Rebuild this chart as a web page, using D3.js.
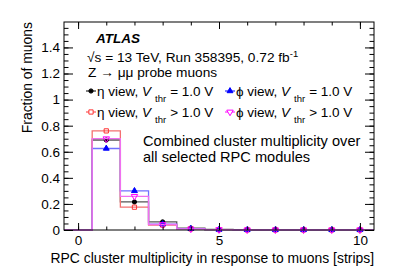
<!DOCTYPE html>
<html lang="en">
<head>
  <meta charset="UTF-8">
  <title>RPC cluster multiplicity</title>
  <style>
    body { margin: 0; background: #fff; }
    svg text { font-family: "Liberation Sans", Arial, sans-serif; fill: #000; }
  </style>
</head>
<body>
  <script src="https://d3js.org/d3.v7.min.js"></script>
  <script>
    const width = 407;
    const height = 275;
    const margin = { top: 22, right: 33, bottom: 45, left: 64 };

    // bin centres (strips) and fraction of muons per series
    const bins = [0, 1, 2, 3, 4, 5, 6, 7, 8, 9, 10];
    const etaEq = [0, 0.69, 0.215, 0.062, 0.015, 0.004, 0.002, 0.001, 0.001, 0.001, 0.001];
    const etaGt = [0, 0.76, 0.175, 0.038, 0.009, 0.003, 0.001, 0.001, 0.001, 0.001, 0.001];
    const phiEq = [0, 0.625, 0.30, 0.045, 0.010, 0.003, 0.001, 0.001, 0.001, 0.001, 0.001];
    const phiGt = [0, 0.70, 0.258, 0.042, 0.008, 0.003, 0.001, 0.001, 0.001, 0.001, 0.001];
    const yTicks = [0, 0.2, 0.4, 0.6, 0.8, 1, 1.2, 1.4];
    const xTicks = [0, 5, 10];

    const series = [
      { name: 'η view', op: '= 1.0 V', values: etaEq, color: '#000000', line: '#555555', symbol: d3.symbolCircle, fill: true, size: 14, rot: 0 },
      { name: 'η view', op: '> 1.0 V', values: etaGt, color: '#ff3333', line: '#f47070', symbol: d3.symbolSquare, fill: false, size: 18, rot: 0 },
      { name: 'ϕ view', op: '= 1.0 V', values: phiEq, color: '#0000ff', line: '#7070ff', symbol: d3.symbolTriangle, fill: true, size: 15, rot: 0 },
      { name: 'ϕ view', op: '> 1.0 V', values: phiGt, color: '#ff00ff', line: '#f070f0', symbol: d3.symbolTriangle, fill: false, size: 18, rot: 180 }
    ];

    const svg = d3.select('body').append('svg')
      .attr('width', width)
      .attr('height', height);

    const x = d3.scaleLinear().domain([-0.5, 10.5]).range([margin.left, width - margin.right]);
    const y = d3.scaleLinear().domain([0, 1.595]).range([height - margin.bottom, margin.top]);

    // histograms
    series.forEach(s => {
      const pts = bins.map((b, i) => [b - 0.5, s.values[i]]);
      pts.push([bins[bins.length - 1] + 0.5, s.values[s.values.length - 1]]);
      const line = d3.line().x(d => x(d[0])).y(d => y(d[1])).curve(d3.curveStepAfter);
      svg.append('path')
        .attr('d', line(pts))
        .attr('fill', 'none')
        .attr('stroke', s.line)
        .attr('stroke-width', 1.3);
      svg.append('g').selectAll('path')
        .data(bins.filter((b, i) => s.values[i] > 0))
        .enter()
        .append('path')
        .attr('d', d3.symbol().type(s.symbol).size(s.size))
        .attr('transform', b => 'translate(' + x(b) + ',' + y(s.values[b]) + ') rotate(' + s.rot + ')')
        .attr('fill', s.fill ? s.color : 'none')
        .attr('stroke', s.color)
        .attr('stroke-width', 1);
    });

    // axes, ROOT style ticks inside the frame
    const innerW = width - margin.left - margin.right;
    const innerH = height - margin.top - margin.bottom;
    const yMinor = d3.range(0, 1.6, 0.05);
    const xMinor = d3.range(0, 11, 1);

    const addAxis = (axis, tx, ty) => {
      const g = svg.append('g').attr('transform', 'translate(' + tx + ',' + ty + ')').call(axis);
      g.select('.domain').remove();
      g.selectAll('line').attr('stroke', '#000');
      g.selectAll('text').style('font-size', '13.5px').attr('fill', '#000');
      return g;
    };

    addAxis(d3.axisLeft(y).tickValues(yTicks).tickSize(-9).tickPadding(4).tickFormat(d3.format('~g')), margin.left, 0);
    addAxis(d3.axisLeft(y).tickValues(yMinor).tickSize(-4.5).tickFormat(''), margin.left, 0);
    addAxis(d3.axisRight(y).tickValues(yTicks).tickSize(-9).tickFormat(''), width - margin.right, 0);
    addAxis(d3.axisRight(y).tickValues(yMinor).tickSize(-4.5).tickFormat(''), width - margin.right, 0);
    addAxis(d3.axisBottom(x).tickValues(xTicks).tickSize(-7).tickPadding(5), 0, height - margin.bottom);
    addAxis(d3.axisBottom(x).tickValues(xMinor).tickSize(-3.5).tickFormat(''), 0, height - margin.bottom);
    addAxis(d3.axisTop(x).tickValues(xTicks).tickSize(-7).tickFormat(''), 0, margin.top);
    addAxis(d3.axisTop(x).tickValues(xMinor).tickSize(-3.5).tickFormat(''), 0, margin.top);

    svg.append('rect')
      .attr('x', margin.left)
      .attr('y', margin.top)
      .attr('width', innerW)
      .attr('height', innerH)
      .attr('fill', 'none')
      .attr('stroke', '#000')
      .attr('stroke-width', 1);

    // axis titles
    svg.append('text')
      .attr('x', width - margin.right)
      .attr('y', 263)
      .attr('text-anchor', 'end')
      .style('font-size', '13.9px')
      .text('RPC cluster multiplicity in response to muons [strips]');

    svg.append('text')
      .attr('transform', 'translate(32,' + margin.top + ') rotate(-90)')
      .attr('text-anchor', 'end')
      .style('font-size', '13.9px')
      .text('Fraction of muons');

    // labels
    svg.append('text')
      .attr('x', 96).attr('y', 43)
      .style('font-size', '13.5px')
      .style('font-weight', 'bold')
      .style('font-style', 'italic')
      .text('ATLAS');

    const lumi = svg.append('text').attr('x', 87).attr('y', 61.5).style('font-size', '13.7px');
    lumi.append('tspan').text('√s = 13 TeV, Run 358395, 0.72 fb');
    lumi.append('tspan').attr('dy', -5).style('font-size', '9.5px').text('-1');

    svg.append('text').attr('x', 88).attr('y', 76.5).style('font-size', '13.7px')
      .text('Z → μμ probe muons');

    const leg = svg.append('g');
    series.forEach((s, i) => {
      const lx = i < 2 ? 91 : 230;
      const ly = i % 2 === 0 ? 91 : 112;
      leg.append('line')
        .attr('x1', lx - 5).attr('x2', lx + 5)
        .attr('y1', ly).attr('y2', ly)
        .attr('stroke', s.color).attr('stroke-width', 1);
      leg.append('path')
        .attr('d', d3.symbol().type(s.symbol).size(s.size))
        .attr('transform', 'translate(' + lx + ',' + ly + ') rotate(' + s.rot + ')')
        .attr('fill', s.fill ? s.color : 'white')
        .attr('stroke', s.color);
      const t = leg.append('text').attr('x', lx + 6).attr('y', ly + 4.5).style('font-size', '13.5px');
      t.append('tspan').text(s.name + ', ');
      t.append('tspan').style('font-style', 'italic').text('V');
      t.append('tspan').attr('dx', 4).attr('dy', 6).style('font-size', '9.5px').text('thr');
      t.append('tspan').attr('dx', 4).attr('dy', -6).text(s.op);
    });

    svg.append('text').attr('x', 143).attr('y', 146).style('font-size', '14.6px')
      .text('Combined cluster multiplicity over');
    svg.append('text').attr('x', 143).attr('y', 161.5).style('font-size', '14.6px')
      .text('all selected RPC modules');
  </script>
</body>
</html>
